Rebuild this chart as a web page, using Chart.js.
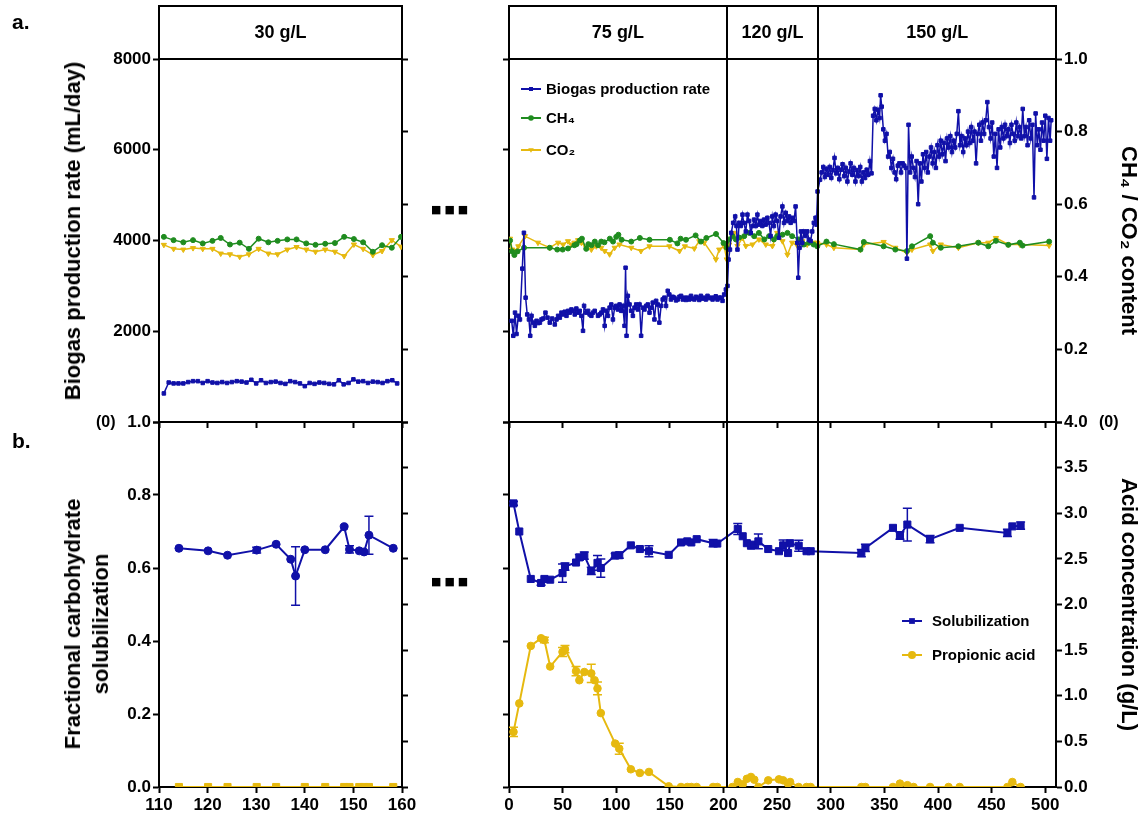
<!DOCTYPE html>
<html>
<head>
<meta charset="utf-8">
<script src="https://cdn.jsdelivr.net/npm/chart.js"></script>
<style>
  html, body { margin: 0; padding: 0; background: #fff; }
  #wrap { position: relative; width: 1145px; height: 815px; overflow: hidden; font-family: "Liberation Sans", Arial, sans-serif; }
  canvas { position: absolute; }
  .t { position: absolute; font-weight: bold; color: #000; white-space: nowrap; line-height: 1; }
  .dots { font-family: "DejaVu Sans", sans-serif; font-size: 11px; letter-spacing: 3px; }
  .yt { position: absolute; font-weight: bold; font-size: 22px; line-height: 28px; text-align: center; color: #000;
        white-space: nowrap; transform: translate(-50%, -50%) rotate(-90deg); }
</style>
</head>
<body>
<div id="wrap">
  <canvas id="aL" width="430" height="440" style="left:0;top:0"></canvas>
  <canvas id="aR" width="705" height="440" style="left:440px;top:0"></canvas>
  <canvas id="bL" width="430" height="415" style="left:0;top:400px"></canvas>
  <canvas id="bR" width="705" height="415" style="left:440px;top:400px"></canvas>
  <div class="t" style="left:12px;top:11px;font-size:21px">a.</div>
  <div class="t" style="left:12px;top:430px;font-size:21px">b.</div>
  <div class="t" style="left:96px;top:414px;font-size:16px">(0)</div>
  <div class="t" style="left:1099px;top:414px;font-size:16px">(0)</div>
  <div class="t dots" style="left:431px;top:204px">■■■</div>
  <div class="t dots" style="left:431px;top:576px">■■■</div>
  <div class="yt" style="left:73px;top:231px">Biogas production rate (mL/day)</div>
  <div class="yt" style="left:87px;top:624px">Fractional carbohydrate<br>solubilization</div>
</div>
<script>
// ---- colours / font
var FONT = '"Liberation Sans", Arial, Helvetica, sans-serif';
var BLUE = '#1010a8', GREEN = '#1f8c1f', YELLOW = '#e6b90f';

// ---- ticks and phase labels
var gasTicks = [0, 2000, 4000, 6000, 8000];
var fracTicks = [0, 0.2, 0.4, 0.6, 0.8, 1.0];
var acidTicks = [0, 0.5, 1, 1.5, 2, 2.5, 3, 3.5, 4];
var dayTicksLeft = [110, 120, 130, 140, 150, 160];
var dayTicksRight = [0, 50, 100, 150, 200, 250, 300, 350, 400, 450, 500];
var phaseLeft = ['30 g/L'];
var phaseRight = ['75 g/L', '120 g/L', '150 g/L'];
var phaseBounds = [203, 288.5];

// ---- panel a, 30 g/L (day, value)
var biogas30 = [[111,630],[112,870],[113,850],[114,850],[115,850],[116,880],[117,900],[118,900],[119,860],[120,900],
  [121,870],[122,860],[123,880],[124,860],[125,880],[126,900],[127,890],[128,870],[129,930],[130,850],
  [131,920],[132,860],[133,880],[134,890],[135,860],[136,840],[137,900],[138,880],[139,850],[140,790],
  [141,860],[142,840],[143,870],[144,860],[145,840],[146,830],[147,920],[148,830],[149,860],[150,940],
  [151,890],[152,900],[153,860],[154,890],[155,880],[156,860],[157,900],[158,920],[159,850]];
var ch4_30 = [[111,0.510],[113,0.501],[115,0.495],[117,0.501],[119,0.492],[121,0.499],[122.7,0.507],[124.6,0.489],
  [126.6,0.494],[128.5,0.477],[130.5,0.505],[132.5,0.495],[134.4,0.499],[136.4,0.503],[138.3,0.503],[140.3,0.492],
  [142.2,0.488],[144.2,0.491],[146.2,0.493],[148.1,0.510],[150.1,0.504],[152,0.495],[154,0.469],[155.9,0.487],
  [157.9,0.480],[159.8,0.510]];
var co2_30 = [[111,0.488],[113,0.477],[115,0.475],[117,0.479],[119,0.477],[121,0.477],[122.7,0.464],[124.6,0.462],
  [126.6,0.455],[128.5,0.462],[130.5,0.477],[132.5,0.464],[134.4,0.462],[136.4,0.475],[138.3,0.482],[140.3,0.475],
  [142.2,0.469],[144.2,0.475],[146.2,0.469],[148.1,0.457],[150.1,0.489],[152,0.477],[154,0.460],[155.9,0.471],
  [157.9,0.501],[159.8,0.483]];

// ---- panel a, 75 / 120 / 150 g/L (day, mL/day)
var biogas75 = [[2.5,2230],[4,1900],[5.6,2410],[7,1940],[8.7,2340],[10.2,2260],[12.4,3380],[13.9,4170],[15.5,2740],[17,2370],
  [18.6,2260],[19.8,1900],[21,2340],[22.6,2190],[24.1,2120],[25.7,2230],[27.2,2180],[28.8,2190],[30.3,2260],[31.9,2280],
  [34,2410],[35.9,2300],[38,2190],[40.2,2280],[42.7,2150],[44.3,2260],[45.8,2340],[47.4,2300],[48.9,2410],[50.5,2370],
  [52,2430],[53.6,2340],[55.1,2450],[56.7,2410],[58.2,2480],[59.8,2450],[61.3,2370],[62.8,2500],[64.4,2410],[65.9,2450],
  [67.5,2340],[69,2010],[70,2560],[72.1,2410],[73.7,2450],[75.2,2370],[76.8,2340],[78.3,2410],[79.9,2450],[83,2340],
  [84.5,2370],[86.1,2410],[87.6,2480],[89.2,2120],[90.7,2450],[92.3,2340],[93.8,2520],[95.4,2590],[96.9,2260],[98.5,2520],
  [100,2560],[101.5,2480],[103.1,2590],[104.6,2450],[106.2,2560],[107.7,2120],[108.7,3400],[109.6,1900],[110.8,2780],[112.4,2590],
  [113.9,2450],[115.5,2340],[117,2520],[118.6,2590],[120.1,2480],[121.7,2590],[123.2,1900],[124.8,2520],[126.3,2480],[127.9,2560],
  [129.4,2590],[131,2410],[132.5,2520],[134,2630],[135.6,2260],[137.2,2670],[138.7,2590],[140.2,2190],[141.8,2560],[143.3,2700],
  [144.9,2740],[146.4,2560],[148,2890],[149.5,2810],[151,2700],[152.6,2760],[154.2,2740],[155.8,2680],[157.3,2700],[158.9,2760],
  [160.4,2780],[162,2700],[163.5,2740],[165,2690],[166.6,2740],[168.1,2700],[169.7,2780],[171.2,2720],[172.8,2700],[174.3,2760],
  [175.9,2740],[177.4,2690],[178.9,2780],[180.5,2720],[182,2740],[183.6,2700],[185.1,2780],[186.7,2730],[188.2,2740],[189.8,2700],
  [191.3,2740],[192.8,2770],[194.4,2700],[196,2740],[197.5,2740],[199.1,2670],[200.6,2810],[202.2,2920]];
var biogas120 = [[203.7,3000],[204.7,3580],[206,3800],[207.2,4170],[209,4390],[210.9,4530],[212.1,4320],[213,3800],[214.6,4390],[216.1,4320],
  [217.7,4570],[218.9,4390],[220.8,4200],[222.3,4570],[223.9,4430],[225.4,4170],[227,4320],[228.5,4460],[230.1,4320],[231.6,4570],
  [233.1,4350],[234.7,4430],[236.2,4320],[237.8,4460],[239.3,4350],[240.9,4500],[242.4,4390],[243.9,4100],[245.5,4530],[247,4320],
  [248.6,4570],[250.1,4430],[251.7,4060],[253.2,4530],[254.9,4750],[256.4,4390],[258,4610],[259.5,4430],[261.1,4530],[262.6,4390],
  [264.2,4500],[265.7,4430],[267.2,4750],[268.8,3950],[269.7,3180],[270.9,3840],[272.2,4200],[273.4,3950],[275,4200],[276.5,4100],
  [278.1,4200],[279.6,4020],[281.2,3990],[282.7,4200],[284.2,4390],[285.8,4500],[286.7,4350],[287.7,5080]];
var biogas150 = [[290,5340],[291.5,5500],[293,5620],[294.5,5400],[296,5580],[297.5,5450],[299,5620],[300.5,5380],[302,5550],[303.5,5820],
  [305,5480],[306.5,5600],[308,5350],[309.5,5560],[311,5680],[312.5,5420],[314,5600],[315.5,5300],[317,5520],[318.5,5700],
  [320,5450],[321.5,5600],[323,5300],[324.5,5550],[326,5420],[327.5,5620],[329,5300],[330.5,5500],[332,5380],[333.5,5560],
  [335,5450],[336.5,5750],[338,5480],[339.5,6750],[341,6900],[342.5,6650],[344,6880],[345.5,6700],[346.5,7200],[347.5,6950],
  [349,6450],[350.5,6200],[352,6350],[353.5,5850],[355,5950],[356.5,5600],[358,5800],[359.5,5500],[361,5350],[362.5,5650],
  [364,5700],[365.5,5500],[367,5700],[368.5,5650],[370,5600],[371,3600],[372.5,6550],[374,5500],[375.5,5850],[377,5600],
  [378.5,5400],[380,5750],[381.5,4800],[383,5700],[384.5,5300],[386,5900],[387.5,5600],[389,5950],[390.5,5500],[392,5850],
  [393.5,6050],[395,5700],[396.5,5950],[398,5600],[399.5,6100],[401,5850],[402.5,6200],[404,5900],[405.5,6150],[407,5750],
  [408.5,6250],[410,6050],[411.5,6300],[413,5950],[414.5,6200],[416,6050],[417.5,6350],[419,6850],[420.5,6100],[422,6300],
  [423.5,5950],[425,6250],[426.5,6100],[428,6400],[429.5,6150],[431,6500],[432.5,6200],[434,6400],[435.5,5700],[437,6350],
  [438.5,6550],[440,6200],[441.5,6600],[443,6350],[444.5,6650],[446,7050],[447.5,6500],[449,6250],[450.5,6600],[452,5850],
  [453.5,6350],[455,5600],[456.5,6450],[458,6050],[459.5,6500],[461,6250],[462.5,6550],[464,6300],[465.5,6450],[467,6150],
  [468.5,6550],[470,6350],[471.5,6200],[473,6600],[474.5,6300],[476,6500],[477.5,6250],[479,6900],[480.5,6300],[482,6500],
  [483.5,6100],[485,6650],[486.5,6250],[488,6550],[489.5,4950],[491,6800],[492.5,6100],[494,6450],[495.5,6000],[497,6600],
  [498.5,6200],[500,6750],[501.5,5800],[503,6700],[504.5,6200],[505.5,6650]];
var ch4R = [[1,0.50],[3,0.47],[5,0.46],[8,0.47],[14,0.48],[38,0.48],[45,0.475],[50,0.475],[55,0.478],[61,0.487],
  [63,0.49],[66,0.5],[68,0.505],[72,0.477],[74,0.49],[77,0.487],[80,0.497],[83,0.487],[86,0.497],[89,0.495],
  [94,0.505],[97,0.497],[100,0.51],[102,0.516],[105,0.502],[114,0.497],[122,0.507],[131,0.502],[150,0.502],[157,0.492],
  [160,0.505],[165,0.502],[174,0.514],[179,0.497],[184,0.507],[193,0.518],[200,0.493],[203,0.48],[205.3,0.503],[208.4,0.512],
  [211.5,0.503],[214.6,0.508],[219.3,0.512],[224,0.521],[228.6,0.512],[233,0.521],[238,0.503],[242.5,0.512],[247,0.503],[250,0.512],
  [255,0.516],[259.6,0.521],[264,0.512],[270,0.503],[275,0.489],[279.7,0.494],[284,0.489],[287.4,0.484],[296,0.497],[302.9,0.49],
  [327.7,0.475],[330.8,0.496],[349.3,0.484],[360.2,0.475],[371,0.471],[375.7,0.484],[392.7,0.512],[395.2,0.494],[402.6,0.48],[419,0.484],
  [437.6,0.494],[446.9,0.484],[454,0.499],[465.5,0.488],[476.3,0.494],[478.8,0.486],[503.6,0.497]];
var co2R = [[1,0.505],[3,0.475],[5.6,0.471],[8.7,0.484],[14.9,0.512],[27,0.494],[38,0.48],[45.8,0.494],[50.5,0.489],[55,0.498],
  [58,0.489],[61,0.494],[64.4,0.501],[67.5,0.494],[72,0.48],[76.8,0.475],[81.4,0.484],[86,0.48],[89.2,0.471],[93.8,0.462],
  [98.5,0.48],[103,0.489],[114,0.48],[123,0.471],[131,0.484],[149.5,0.484],[159,0.471],[164,0.484],[172.8,0.478],[177.4,0.498],
  [182,0.494],[192.9,0.448],[196,0.475],[200.6,0.484],[203,0.448],[205.3,0.489],[210,0.521],[213,0.485],[217.7,0.507],[220.8,0.485],
  [227,0.489],[233,0.503],[239.4,0.489],[245.6,0.485],[250,0.521],[255,0.498],[259.6,0.461],[264,0.494],[269,0.485],[273.5,0.498],
  [278,0.489],[284,0.494],[287.4,0.494],[296,0.489],[302.9,0.48],[327.7,0.475],[330.8,0.489],[349.3,0.496],[360.2,0.48],[371,0.466],
  [375.7,0.475],[392.7,0.489],[395.2,0.471],[402.6,0.489],[419,0.48],[437.6,0.494],[446.9,0.494],[454,0.507],[465.5,0.489],[476.3,0.489],
  [503.6,0.486]];

// ---- panel b (day, value, error)
var sol30 = [[114.1,0.654,0],[120.1,0.647,0],[124.1,0.635,0],[130.1,0.649,0.008],[134.1,0.665,0],[137.1,0.624,0],[138.1,0.578,0.08],
  [140,0.65,0],[144.2,0.65,0],[148.1,0.713,0],[149.2,0.651,0.01],[151.2,0.647,0],[152.2,0.644,0],[153.2,0.69,0.052],[158.2,0.654,0]];
var prop30 = [[114.1,0,0],[120.1,0,0],[124.1,0,0],[130.1,0,0],[134.1,0,0],[140,0,0],[144.2,0,0],[148.1,0,0],[149.2,0,0],
  [151.2,0,0],[152.2,0,0],[153.2,0,0],[158.2,0,0]];
var solR = [[4.2,0.777,0.005],[9.6,0.70,0],[20.3,0.570,0],[29.9,0.559,0.006],[33,0.570,0],[38.4,0.568,0],[49.9,0.586,0.025],
  [52.2,0.604,0.01],[62.5,0.615,0],[65.6,0.629,0.008],[70.2,0.634,0.01],[76.7,0.592,0.01],[82.5,0.614,0.02],[85.6,0.60,0.025],
  [99,0.634,0.006],[102.8,0.635,0.008],[113.6,0.662,0],[122,0.652,0],[130.5,0.646,0.015],[148.9,0.636,0],[160.4,0.670,0],
  [166.2,0.673,0],[170,0.67,0],[175,0.679,0],[190.3,0.668,0.01],[194.2,0.667,0],[213.3,0.707,0.015],[217.9,0.687,0],
  [221.8,0.668,0],[225.6,0.661,0],[228.7,0.664,0],[232.5,0.673,0.02],[241.7,0.652,0],[251.7,0.646,0],[255.6,0.662,0.015],
  [260.2,0.641,0],[262.1,0.668,0],[270.1,0.661,0.015],[277.4,0.646,0],[281.3,0.646,0],[328.5,0.641,0.01],[332.3,0.655,0.01],
  [358,0.710,0],[364.5,0.689,0.01],[371.4,0.719,0.045],[392.6,0.679,0.01],[420.2,0.710,0],[464.7,0.696,0.01],[469.3,0.714,0],
  [477,0.716,0.01]];
var propR = [[4.2,0.604,0.05],[9.6,0.916,0],[20.3,1.546,0],[29.9,1.63,0],[33,1.61,0.03],[38.4,1.32,0],[49.9,1.48,0.05],
  [52.2,1.51,0.04],[62.5,1.27,0.05],[65.6,1.17,0],[70.2,1.26,0],[76.7,1.245,0.1],[79.8,1.17,0],[82.5,1.08,0.07],[85.6,0.81,0],
  [99,0.476,0],[102.8,0.42,0.06],[113.6,0.194,0],[122,0.154,0],[130.5,0.165,0],[148.9,0.007,0],[160.4,0,0],[166.2,0,0],
  [170,0,0],[175,0,0],[190.3,0,0],[194.2,0,0],[208.3,0,0],[213.3,0.055,0],[217.9,0.03,0],[221.8,0.09,0],[225.6,0.11,0],
  [228.7,0.08,0],[232.5,0,0],[241.7,0.073,0],[251.7,0.084,0],[255.6,0.073,0],[260.2,0.037,0],[262.1,0.055,0],[270.1,0,0],
  [277.4,0,0],[281.3,0,0],[328.5,0,0],[332.3,0,0],[358,0,0],[364.5,0.037,0],[371.4,0.02,0],[377.2,0,0],[392.6,0,0],
  [409.8,0,0],[420.2,0,0],[464.7,0,0],[469.3,0.055,0],[477,0,0]];

function pts(arr){ return arr.map(function(p){ return {x: p[0], y: p[1]}; }); }
function errs(arr){ return arr.map(function(p){ return p[2] || 0; }); }

// ---- plugins
var errorBars = {
  id: 'errorBars',
  beforeDatasetsDraw: function(chart){
    var ctx = chart.ctx;
    chart.data.datasets.forEach(function(ds, i){
      if (!ds.errors) return;
      var meta = chart.getDatasetMeta(i), ys = chart.scales[ds.yAxisID];
      ctx.save(); ctx.strokeStyle = ds.borderColor; ctx.lineWidth = 1.5;
      ds.data.forEach(function(p, j){
        var e = ds.errors[j]; if (!e) return;
        var x = meta.data[j].x, y1 = ys.getPixelForValue(p.y - e), y2 = ys.getPixelForValue(p.y + e);
        ctx.beginPath();
        ctx.moveTo(x, y1); ctx.lineTo(x, y2);
        ctx.moveTo(x - 4.5, y1); ctx.lineTo(x + 4.5, y1);
        ctx.moveTo(x - 4.5, y2); ctx.lineTo(x + 4.5, y2);
        ctx.stroke();
      });
      ctx.restore();
    });
  }
};

var phases = {
  id: 'phases',
  afterDraw: function(chart, args, o){
    var ctx = chart.ctx, a = chart.chartArea, x = chart.scales.x;
    var h = o.header || 0, bounds = o.bounds || [];
    ctx.save(); ctx.strokeStyle = '#000'; ctx.lineWidth = 2;
    bounds.forEach(function(b){
      var px = Math.round(x.getPixelForValue(b));
      ctx.beginPath(); ctx.moveTo(px, a.top - h); ctx.lineTo(px, a.bottom); ctx.stroke();
    });
    if (h) {
      ctx.strokeRect(a.left, a.top - h, a.right - a.left, h);
      var edges = [x.min].concat(bounds, [x.max]);
      ctx.fillStyle = '#000'; ctx.font = 'bold 18px ' + FONT;
      ctx.textAlign = 'center'; ctx.textBaseline = 'middle';
      o.labels.forEach(function(t, k){
        var cx = (x.getPixelForValue(edges[k]) + x.getPixelForValue(edges[k + 1])) / 2;
        ctx.fillText(t, cx, a.top - h / 2 + 1);
      });
    }
    ctx.restore();
  }
};

function marker(ctx, style, x, y, r){
  ctx.beginPath();
  if (style === 'rect') { ctx.rect(x - r * 0.72, y - r * 0.72, r * 1.44, r * 1.44); }
  else if (style === 'triangle') { ctx.moveTo(x - r, y - r * 0.6); ctx.lineTo(x + r, y - r * 0.6); ctx.lineTo(x, y + r); ctx.closePath(); }
  else { ctx.arc(x, y, r, 0, Math.PI * 2); }
  ctx.fill();
}

var lineLegend = {
  id: 'lineLegend',
  afterDraw: function(chart, args, o){
    if (!o.items) return;
    var ctx = chart.ctx, a = chart.chartArea;
    ctx.save();
    o.items.forEach(function(k, n){
      var ds = chart.data.datasets[k];
      var x0 = a.left + o.x, y = a.top + o.ys[n];
      ctx.strokeStyle = ds.borderColor; ctx.fillStyle = ds.borderColor; ctx.lineWidth = 2;
      ctx.beginPath(); ctx.moveTo(x0, y); ctx.lineTo(x0 + 20, y); ctx.stroke();
      marker(ctx, ds.pointStyle, x0 + 10, y, o.r || 3.5);
      ctx.fillStyle = '#000'; ctx.font = 'bold 15px ' + FONT;
      ctx.textAlign = 'left'; ctx.textBaseline = 'middle';
      ctx.fillText(ds.label, a.left + o.textX, y + 1);
    });
    ctx.restore();
  }
};

// ---- scale helper
function ax(o){
  return {
    type: 'linear', position: o.pos, min: o.min, max: o.max,
    afterBuildTicks: function(s){ s.ticks = o.ticks.map(function(v){ return {value: v}; }); },
    afterFit: function(s){ if (s.isHorizontal()) s.height = o.size; else s.width = o.size; },
    ticks: {
      display: !!o.fmt, callback: o.fmt || function(){ return ''; },
      color: '#000', padding: 2, maxRotation: 0, autoSkip: false,
      font: {family: FONT, size: 17, weight: 'bold'}
    },
    grid: { drawOnChartArea: false, drawTicks: true, tickLength: 6, tickWidth: 2, tickColor: '#000' },
    border: { color: '#000', width: 2 },
    title: o.title || {display: false}
  };
}
function ttl(text, pad, lh){
  return { display: true, text: text, color: '#000', padding: {top: pad, bottom: 0},
    font: {family: FONT, size: 22, weight: 'bold', lineHeight: lh || 1.2} };
}
var gasFmt = function(v){ return v === 0 ? '' : String(v); };
var fracTopFmt = function(v){ return v === 0 ? '' : v.toFixed(1); };
var oneDec = function(v){ return v.toFixed(1); };
var intFmt = function(v){ return String(v); };

function line(label, data, color, style, r, yID, extra){
  var ds = {
    label: label, data: data, yAxisID: yID, borderColor: color, backgroundColor: color,
    pointBackgroundColor: color, pointBorderColor: color, pointStyle: style, pointRadius: r,
    pointBorderWidth: 1, borderWidth: 1.5, tension: 0, fill: false
  };
  for (var k in extra) ds[k] = extra[k];
  return ds;
}

function makeChart(id, padTop, datasets, scales, pluginOpts){
  var plugins = { legend: {display: false}, tooltip: {enabled: false} };
  for (var k in pluginOpts) plugins[k] = pluginOpts[k];
  return new Chart(document.getElementById(id), {
    type: 'line',
    data: { datasets: datasets },
    options: {
      responsive: false, animation: false, devicePixelRatio: 1, events: [],
      layout: { padding: {top: padTop, left: 0, right: 0, bottom: 0} },
      scales: scales, plugins: plugins
    },
    plugins: [errorBars, phases, lineLegend]
  });
}

// ---- panel a, left
makeChart('aL', 59, [
  line('Biogas production rate', pts(biogas30), BLUE, 'rect', 2.5, 'y'),
  line('CH₄', pts(ch4_30), GREEN, 'circle', 2.5, 'y2'),
  line('CO₂', pts(co2_30), YELLOW, 'triangle', 3, 'y2', {pointRotation: 180})
], {
  x: ax({pos: 'bottom', min: 110, max: 160, ticks: dayTicksLeft, size: 18}),
  y: ax({pos: 'left', min: 0, max: 8000, ticks: gasTicks, fmt: gasFmt, size: 159}),
  y2: ax({pos: 'right', min: 0, max: 1, ticks: fracTicks, size: 28})
}, { phases: {header: 53, bounds: [], labels: phaseLeft} });

// ---- panel a, right
makeChart('aR', 59, [
  line('Biogas production rate', pts(biogas75.concat(biogas120, biogas150)), BLUE, 'rect', 2.5, 'y'),
  line('CH₄', pts(ch4R), GREEN, 'circle', 2.5, 'y2'),
  line('CO₂', pts(co2R), YELLOW, 'triangle', 3, 'y2', {pointRotation: 180})
], {
  x: ax({pos: 'bottom', min: 0, max: 510, ticks: dayTicksRight, size: 18}),
  y: ax({pos: 'left', min: 0, max: 8000, ticks: gasTicks, size: 69}),
  y2: ax({pos: 'right', min: 0, max: 1, ticks: fracTicks, fmt: fracTopFmt, size: 89,
    title: ttl('CH₄ / CO₂ content', 4)})
}, {
  phases: {header: 53, bounds: phaseBounds, labels: phaseRight},
  lineLegend: {items: [0, 1, 2], x: 12, textX: 37, ys: [30, 59, 91], r: 2.8}
});

// ---- panel b, left
makeChart('bL', 22, [
  line('Solubilization', pts(sol30), BLUE, 'circle', 4, 'y', {errors: errs(sol30), borderWidth: 2}),
  line('Propionic acid', pts(prop30), YELLOW, 'rect', 5, 'y2', {borderWidth: 2})
], {
  x: ax({pos: 'bottom', min: 110, max: 160, ticks: dayTicksLeft, fmt: intFmt, size: 28}),
  y: ax({pos: 'left', min: 0, max: 1, ticks: fracTicks, fmt: oneDec, size: 159}),
  y2: ax({pos: 'right', min: 0, max: 4, ticks: acidTicks, size: 28})
}, {});

// ---- panel b, right
makeChart('bR', 22, [
  line('Solubilization', pts(solR), BLUE, 'rect', 5, 'y', {errors: errs(solR), borderWidth: 2}),
  line('Propionic acid', pts(propR), YELLOW, 'circle', 3.8, 'y2', {errors: errs(propR), borderWidth: 2})
], {
  x: ax({pos: 'bottom', min: 0, max: 510, ticks: dayTicksRight, fmt: intFmt, size: 28}),
  y: ax({pos: 'left', min: 0, max: 1, ticks: fracTicks, size: 69}),
  y2: ax({pos: 'right', min: 0, max: 4, ticks: acidTicks, fmt: oneDec, size: 89,
    title: ttl('Acid concentration (g/L)', 4)})
}, {
  phases: {header: 0, bounds: phaseBounds, labels: []},
  lineLegend: {items: [0, 1], x: 393, textX: 423, ys: [199, 233], r: 4}
});
</script>
</body>
</html>
